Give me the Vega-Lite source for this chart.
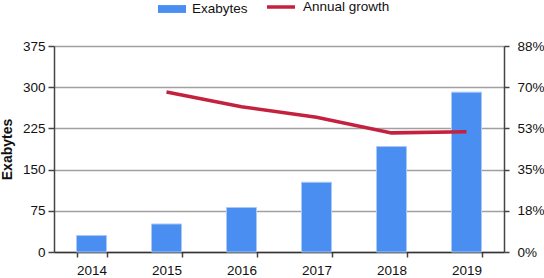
{
  "$schema": "https://vega.github.io/schema/vega-lite/v6.json",
  "width": 450,
  "height": 206,
  "autosize": {"type": "none"},
  "padding": {"left": 54, "top": 46, "right": 40, "bottom": 26},
  "config": {
    "view": {"stroke": null},
    "font": "Liberation Sans",
    "axis": {
      "labelFont": "Liberation Sans",
      "labelFontSize": 13.5,
      "labelColor": "#111",
      "domainColor": "#444",
      "domainWidth": 1.5,
      "tickColor": "#444",
      "tickWidth": 1.5
    },
    "legend": {
      "labelFont": "Liberation Sans",
      "labelFontSize": 13.5,
      "labelColor": "#111",
      "padding": 0,
      "labelOffset": 6
    }
  },
  "data": {
    "values": [
      {"year": "2014", "exabytes": 30, "growth": null},
      {"year": "2015", "exabytes": 51, "growth": 68},
      {"year": "2016", "exabytes": 81, "growth": 61.7},
      {"year": "2017", "exabytes": 127, "growth": 57.2},
      {"year": "2018", "exabytes": 192, "growth": 50.6},
      {"year": "2019", "exabytes": 291, "growth": 51.1}
    ]
  },
  "layer": [
    {
      "mark": {"type": "bar", "stroke": "#a9c9f7", "strokeWidth": 1},
      "encoding": {
        "x": {
          "field": "year",
          "type": "nominal",
          "scale": {"paddingInner": 0.6, "paddingOuter": 0.3},
          "axis": {
            "title": null,
            "labelAngle": 0,
            "tickBand": "extent",
            "tickSize": 5,
            "labelPadding": 6,
            "domainColor": "#333"
          }
        },
        "y": {
          "field": "exabytes",
          "type": "quantitative",
          "scale": {"domain": [0, 375], "nice": false},
          "axis": {
            "values": [0, 75, 150, 225, 300, 375],
            "title": "Exabytes",
            "titleFontSize": 14,
            "titleFontWeight": "bold",
            "titleColor": "#111",
            "titlePadding": 8,
            "tickSize": 6,
            "labelPadding": 3,
            "grid": true,
            "gridColor": "#a0a0a0",
            "gridWidth": 1.5
          }
        },
        "color": {
          "datum": "Exabytes",
          "type": "nominal",
          "scale": {"domain": ["Exabytes"], "range": ["#4a8ef2"]},
          "legend": {
            "title": null,
            "orient": "none",
            "legendX": 104,
            "legendY": -51,
            "symbolType": "M-1,-0.28H1V0.28H-1Z",
            "symbolSize": 784,
            "symbolStrokeWidth": 0,
            "symbolOpacity": 1
          }
        }
      }
    },
    {
      "transform": [{"filter": "datum.growth != null"}],
      "mark": {"type": "line", "strokeWidth": 3.5},
      "encoding": {
        "x": {"field": "year", "type": "nominal"},
        "y": {
          "field": "growth",
          "type": "quantitative",
          "scale": {"domain": [0, 87.5], "nice": false},
          "axis": {
            "orient": "right",
            "values": [0, 17.5, 35, 52.5, 70, 87.5],
            "labelExpr": "round(datum.value) + '%'",
            "title": null,
            "grid": false,
            "tickSize": 5,
            "labelPadding": 8
          }
        },
        "stroke": {
          "datum": "Annual growth",
          "type": "nominal",
          "scale": {"domain": ["Annual growth"], "range": ["#c4213f"]},
          "legend": {
            "title": null,
            "orient": "none",
            "legendX": 211,
            "legendY": -55,
            "symbolType": "stroke",
            "symbolSize": 784,
            "symbolStrokeWidth": 3.5,
            "symbolOpacity": 1
          }
        }
      }
    }
  ],
  "resolve": {"scale": {"y": "independent"}}
}
